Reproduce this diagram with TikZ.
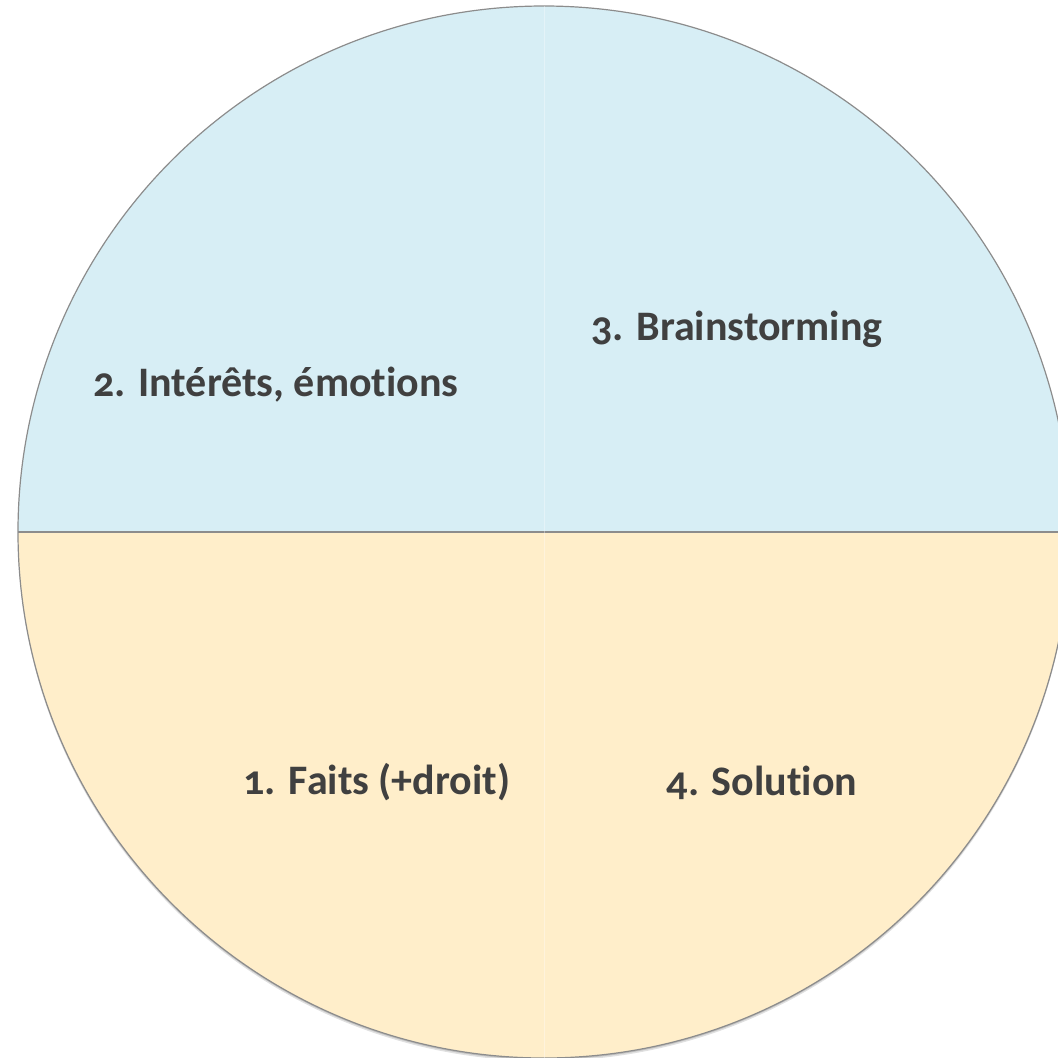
\documentclass[tikz,border=0pt]{standalone}
\usepackage{fontspec}
\setmainfont{Carlito}[Numbers=OldStyle, Ligatures={NoCommon}]
\definecolor{qblue}{HTML}{D7EEF5}
\definecolor{qyellow}{HTML}{FFEECA}
\definecolor{qline}{HTML}{8C8C8C}
\definecolor{qtext}{HTML}{404040}
\begin{document}
\begin{tikzpicture}[x=1pt,y=-1pt,
  lbl/.style={font=\fontsize{42}{48}\selectfont\bfseries, text=qtext, inner sep=0pt, anchor=base}]
\useasboundingbox (0,0) rectangle (1058,1058);
\coordinate (c) at (544,532);
% shadow
\fill[black, opacity=0.12] (544,535) circle (526);
\fill[black, opacity=0.15] (544,533.5) circle (526);
% quadrants (y axis points down, so angles are mirrored)
\fill[qyellow] (c) -- (18,532) arc[start angle=180, end angle=0, radius=526] -- cycle;
\fill[qblue] (c) -- (18,532) arc[start angle=180, end angle=360, radius=526] -- cycle;
\draw[qline, line width=1.2pt] (c) circle (526);
\coordinate (w) at (18,532);
\coordinate (e) at (1070,532);
\draw[qline, line width=1.2pt] (w) -- (e);
\draw[white, opacity=0.35, line width=0.6pt] (544,6) -- (544,1058);
% labels
\node[lbl] (t2) at (276,396) {2. Intérêts, émotions};
\node[lbl] (t3) at (737,340) {3. Brainstorming};
\node[lbl] (t1) at (377,794) {1. Faits (+droit)};
\node[lbl] (t4) at (762,795) {4. Solution};
\end{tikzpicture}
\end{document}
